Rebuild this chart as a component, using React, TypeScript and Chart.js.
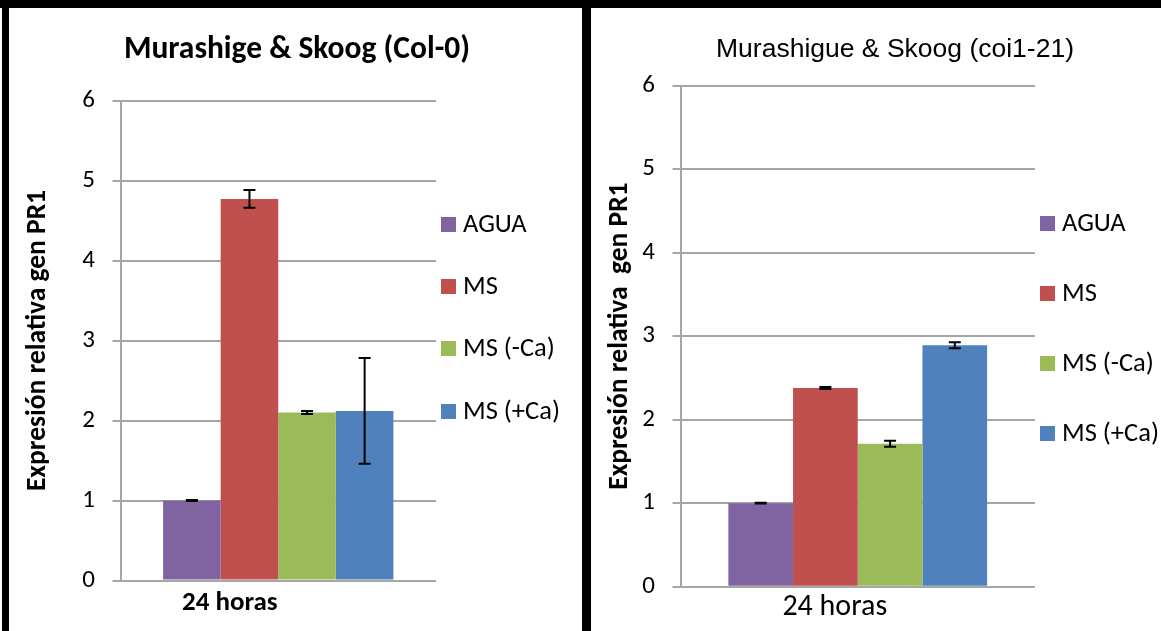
import { useEffect, useRef } from 'react';
import { Chart, registerables } from 'chart.js';

Chart.register(...registerables);

// Series shared by both panels
const seriesLabels = ['AGUA', 'MS', 'MS (-Ca)', 'MS (+Ca)'];
const seriesColors = ['#8064A2', '#C0504D', '#9BBB59', '#4F81BD'];
const timeLabels = ['24 horas'];
const yTickValues = [0, 1, 2, 3, 4, 5, 6];

// Col-0: relative PR1 expression (mean and error)
const col0Means = [1.0, 4.77, 2.1, 2.12];
const col0Errors = [0.005, 0.11, 0.02, 0.66];

// coi1-21: relative PR1 expression (mean and error)
const coi1Means = [1.0, 2.38, 1.71, 2.89];
const coi1Errors = [0.005, 0.012, 0.036, 0.035];

const CALIBRI = 'Calibri, Carlito, Lato, sans-serif';
const ARIAL = 'Arial, "Liberation Sans", sans-serif';
const GRID = '#a6a6a6';

type PanelSpec = {
  left: number;
  width: number;
  height: number;
  title: string;
  titleFont: string;
  titleX: number;
  titleY: number;
  yTitle: string;
  yTitleCenterX: number;
  means: number[];
  errors: number[];
  area: { left: number; top: number; right: number; bottom: number };
  xLabelFont: { family: string; size: number; weight: string };
  xLabelCenterY: number;
  xLabelOffset: number;
  legendX: number;
  legendTextX: number;
  legendY: number[];
};

const panels: PanelSpec[] = [
  {
    left: 0,
    width: 591,
    height: 631,
    title: 'Murashige & Skoog (Col-0)',
    titleFont: `bold 31.5px ${CALIBRI}`,
    titleX: 297,
    titleY: 50,
    yTitle: 'Expresión relativa gen PR1',
    yTitleCenterX: 38,
    means: col0Means,
    errors: col0Errors,
    area: { left: 120.5, top: 100.5, right: 436, bottom: 580.5 },
    xLabelFont: { family: CALIBRI, size: 27, weight: 'bold' },
    xLabelCenterY: 603,
    xLabelOffset: -48.5,
    legendX: 441,
    legendTextX: 463,
    legendY: [224.5, 286.5, 348.5, 411.5],
  },
  {
    left: 591,
    width: 570,
    height: 631,
    title: 'Murashigue & Skoog (coi1-21)',
    titleFont: `26.5px ${ARIAL}`,
    titleX: 304,
    titleY: 50,
    yTitle: 'Expresión relativa  gen PR1',
    yTitleCenterX: 29,
    means: coi1Means,
    errors: coi1Errors,
    area: { left: 89.5, top: 85.5, right: 444, bottom: 586.7 },
    xLabelFont: { family: CALIBRI, size: 30, weight: 'normal' },
    xLabelCenterY: 607,
    xLabelOffset: -23,
    legendX: 449,
    legendTextX: 471,
    legendY: [223.5, 293.5, 363.5, 433.5],
  },
];

// Draws error bars, the chart title and the legend for one panel.
function makeDecor(spec: PanelSpec) {
  return {
    id: 'panelDecor',
    afterDatasetsDraw(chart: any) {
      const ctx = chart.ctx as CanvasRenderingContext2D;
      const yScale = chart.scales.y;
      ctx.save();
      ctx.strokeStyle = '#000';
      ctx.lineWidth = 2;
      spec.errors.forEach((err, i) => {
        const bar = chart.getDatasetMeta(i).data[0];
        const v = chart.data.datasets[i].data[0] as number;
        const yHi = yScale.getPixelForValue(v + err);
        const yLo = yScale.getPixelForValue(v - err);
        const x = bar.x;
        ctx.beginPath();
        ctx.moveTo(x, yHi);
        ctx.lineTo(x, yLo);
        ctx.moveTo(x - 6, yHi);
        ctx.lineTo(x + 6, yHi);
        ctx.moveTo(x - 6, yLo);
        ctx.lineTo(x + 6, yLo);
        ctx.stroke();
      });
      ctx.restore();
    },
    afterDraw(chart: any) {
      const ctx = chart.ctx as CanvasRenderingContext2D;
      ctx.save();
      ctx.fillStyle = '#000';
      ctx.textAlign = 'center';
      ctx.textBaseline = 'middle';
      ctx.font = spec.titleFont;
      ctx.fillText(spec.title, spec.titleX, spec.titleY);

      ctx.textAlign = 'left';
      ctx.font = `26.5px ${CALIBRI}`;
      chart.data.datasets.forEach((ds: any, i: number) => {
        const cy = spec.legendY[i];
        ctx.fillStyle = ds.backgroundColor;
        ctx.fillRect(spec.legendX, cy - 7.5, 15, 15);
        ctx.fillStyle = '#000';
        ctx.fillText(ds.label, spec.legendTextX, cy + 1);
      });
      ctx.restore();
    },
  };
}

function buildConfig(spec: PanelSpec): any {
  const a = spec.area;
  const yTitleSize = 27.5;
  const xLine = spec.xLabelFont.size * 1.2;
  return {
    type: 'bar',
    data: {
      labels: timeLabels,
      datasets: seriesLabels.map((label, i) => ({
        label,
        data: [spec.means[i]],
        backgroundColor: seriesColors[i],
        borderWidth: 0,
        categoryPercentage: 0.73,
        barPercentage: 1,
      })),
    },
    options: {
      responsive: false,
      animation: false,
      devicePixelRatio: 1,
      layout: {
        padding: { left: 0, top: a.top, right: spec.width - a.right, bottom: 0 },
      },
      plugins: {
        legend: { display: false },
        tooltip: { enabled: false },
        title: { display: false },
      },
      scales: {
        x: {
          type: 'category',
          grid: { display: false, drawTicks: false },
          border: { display: false },
          ticks: {
            color: '#000',
            font: spec.xLabelFont,
            padding: spec.xLabelCenterY - a.bottom - xLine / 2,
            labelOffset: spec.xLabelOffset,
            maxRotation: 0,
            autoSkip: false,
          },
          afterFit: (s: any) => {
            s.height = spec.height - a.bottom;
          },
        },
        y: {
          min: yTickValues[0],
          max: yTickValues[yTickValues.length - 1],
          afterBuildTicks: (s: any) => {
            s.ticks = yTickValues.map((v) => ({ value: v }));
          },
          ticks: {
            color: '#000',
            font: { family: CALIBRI, size: 25 },
            padding: 17.5,
          },
          grid: { color: GRID, lineWidth: 2, tickLength: 8, drawTicks: true },
          border: { display: true, color: GRID, width: 2 },
          title: {
            display: true,
            text: spec.yTitle,
            color: '#000',
            font: { family: CALIBRI, size: yTitleSize, weight: 'bold' },
            padding: { top: spec.yTitleCenterX - (yTitleSize * 1.2) / 2, bottom: 0 },
          },
          afterFit: (s: any) => {
            s.width = a.left;
          },
        },
      },
    },
    plugins: [makeDecor(spec)],
  };
}

function Panel({ spec }: { spec: PanelSpec }) {
  const ref = useRef<HTMLCanvasElement>(null);
  useEffect(() => {
    const chart = new Chart(ref.current as HTMLCanvasElement, buildConfig(spec));
    return () => chart.destroy();
  }, [spec]);
  return (
    <canvas
      ref={ref}
      width={spec.width}
      height={spec.height}
      style={{ position: 'absolute', left: spec.left, top: 0, width: spec.width, height: spec.height }}
    />
  );
}

export default function App() {
  return (
    <div
      style={{
        position: 'fixed',
        left: 0,
        top: 0,
        width: 1161,
        height: 631,
        background: '#fff',
        overflow: 'hidden',
      }}
    >
      {panels.map((p) => (
        <Panel key={p.title} spec={p} />
      ))}
      {/* table cell borders */}
      <div style={{ position: 'absolute', left: 0, top: 0, width: 1161, height: 8, background: '#000' }} />
      <div style={{ position: 'absolute', left: 2, top: 0, width: 7, height: 631, background: '#000' }} />
      <div style={{ position: 'absolute', left: 582, top: 0, width: 9, height: 631, background: '#000' }} />
    </div>
  );
}
